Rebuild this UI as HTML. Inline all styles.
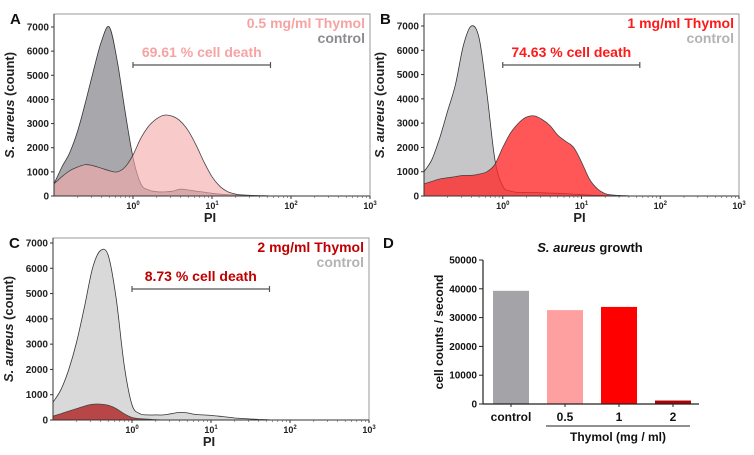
<!DOCTYPE html>
<html><head><meta charset="utf-8"><style>
html,body{margin:0;padding:0;background:#fff;}
svg{display:block;font-family:"Liberation Sans",Arial,sans-serif;font-weight:bold;}
</style></head>
<body>
<svg id="fig" width="754" height="455" viewBox="0 0 754 455" xmlns="http://www.w3.org/2000/svg"></svg>
<script>
// ---- data (log10 PI bins from -1.0 to 3.0 step 0.1) ----
const logBins = [];
for (let i = 0; i <= 40; i++) logBins.push(-1 + i * 0.1);
const controlA = [500,1200,1800,2700,3900,5200,6400,7000,5600,3500,1600,500,250,180,170,200,280,250,200,160,110,80,60,45,35,25,15,8,0,0,0,0,0,0,0,0,0,0,0,0,0];
const thymolA  = [500,800,1050,1200,1300,1250,1150,1050,1000,1200,1700,2400,2900,3200,3350,3300,3100,2700,2100,1400,800,400,180,80,40,20,10,5,0,0,0,0,0,0,0,0,0,0,0,0,0];
const controlB = [1000,1500,2400,3500,4600,6200,7000,6500,4200,1500,400,200,150,150,150,130,120,110,100,80,60,40,30,20,10,5,0,0,0,0,0,0,0,0,0,0,0,0,0,0,0];
const thymolB  = [500,600,700,750,800,850,850,900,1000,1300,2000,2600,3000,3250,3300,3150,2900,2500,2250,2000,1400,700,300,100,40,20,10,0,0,0,0,0,0,0,0,0,0,0,0,0,0];
const controlC = [700,1200,2000,3100,4500,6000,6700,6500,4800,2200,600,250,200,200,200,250,300,280,220,200,180,150,120,80,60,40,25,10,0,0,0,0,0,0,0,0,0,0,0,0,0];
const thymolC  = [150,250,350,450,550,620,630,580,450,250,100,50,30,10,5,0,0,0,0,0,0,0,0,0,0,0,0,0,0,0,0,0,0,0,0,0,0,0,0,0,0];
const yTicks = [0,1000,2000,3000,4000,5000,6000,7000];
const xDecades = [0,1,2,3];
const barCategories = ["control","0.5","1","2"];
const barValues = [39300,32600,33700,1200];
const barTicks = [0,10000,20000,30000,40000,50000];

const NS = "http://www.w3.org/2000/svg";
const svg = document.getElementById("fig");
function mk(tag, attrs, parent, text) {
  const e = document.createElementNS(NS, tag);
  for (const k in attrs) e.setAttribute(k, attrs[k]);
  if (text !== undefined) e.textContent = text;
  (parent || svg).appendChild(e);
  return e;
}

function histPanel(p) {
  const g = mk("g", {});
  
  
  const xs = v => p.left + (v + 1) / 4 * (p.right - p.left);
  const ys = v => p.y0 - v / 7000 * (p.y0 - p.y7000);
  const fr = mk("rect", {x:p.left, y:p.top, width:p.right-p.left, height:p.y0-p.top, fill:"none", stroke:"#999", "stroke-width":1}, g);
  
  
  function area(data, fill, stroke, nm) {
    const pts = data.map((v, i) => [xs(logBins[i]), ys(v)]);
    let d = "M" + pts[0][0] + "," + p.y0 + " L" + pts[0][0].toFixed(1) + "," + pts[0][1].toFixed(1);
    for (let i = 0; i < pts.length - 1; i++) {
      const p0 = pts[Math.max(0, i-1)], p1 = pts[i], p2 = pts[i+1], p3 = pts[Math.min(pts.length-1, i+2)];
      const c1x = p1[0] + (p2[0]-p0[0])/6, c1y = Math.min(p.y0, p1[1] + (p2[1]-p0[1])/6);
      const c2x = p2[0] - (p3[0]-p1[0])/6, c2y = Math.min(p.y0, p2[1] - (p3[1]-p1[1])/6);
      d += " C" + c1x.toFixed(1) + "," + c1y.toFixed(1) + " " + c2x.toFixed(1) + "," + c2y.toFixed(1) + " " + p2[0].toFixed(1) + "," + p2[1].toFixed(1);
    }
    d += " L" + pts[pts.length-1][0] + "," + p.y0 + " Z";
    const a = mk("path", {d:d, fill:fill, stroke:stroke, "stroke-width":0.8}, g);
    
    
  }
  area(p.control, p.cFill, "#333", "control-histogram");
  area(p.treat, p.tFill, "#444", "thymol-histogram");
  mk("line", {x1:p.left, y1:p.top, x2:p.left, y2:p.y0, stroke:"#333", "stroke-width":1}, g);
  mk("line", {x1:p.left, y1:p.y0, x2:p.right, y2:p.y0, stroke:"#333", "stroke-width":1}, g);
  yTicks.forEach(t => {
    mk("line", {x1:p.left-3, y1:ys(t), x2:p.left, y2:ys(t), stroke:"#333"}, g);
    const tl = mk("text", {x:p.left-5, y:ys(t)+3.5, "font-size":10, "text-anchor":"end", fill:"#222"}, g, String(t));
    
    
  });
  xDecades.forEach(dc => {
    const x = xs(dc);
    mk("line", {x1:x, y1:p.y0, x2:x, y2:p.y0+3, stroke:"#333"}, g);
    for (let m = 2; m < 10; m++) {
      const xm = xs(dc - 1 + Math.log10(m));
      mk("line", {x1:xm, y1:p.y0, x2:xm, y2:p.y0+2, stroke:"#555", "stroke-width":0.6}, g);
    }
    const tl = mk("text", {x:x, y:p.y0+13, "font-size":9, "text-anchor":"middle", fill:"#222"}, g);
    
    
    tl.appendChild(document.createTextNode("10"));
    mk("tspan", {"font-size":6, dy:-4}, tl, String(dc));
  });
  const xt = mk("text", {x:(p.left+p.right)/2 - 2, y:p.y0+26, "font-size":13, "text-anchor":"middle", fill:"#222"}, g, "PI");
  
  
  const yt = mk("text", {transform:"translate("+(p.left-40)+","+((p.top+p.y0)/2)+") rotate(-90)", "font-size":13, "text-anchor":"middle", fill:"#222"}, g);
  
  
  mk("tspan", {"font-style":"italic"}, yt, "S. aureus");
  mk("tspan", {}, yt, " (count)");
  const pl = mk("text", {x:p.left-44, y:p.top+10, "font-size":15, fill:"#111"}, g, p.letter);
  
  
  const l1 = mk("text", {x:p.right-5, y:p.top+14, "font-size":14, "text-anchor":"end", fill:p.tColor}, g, p.label);
  
  
  const l2 = mk("text", {x:p.right-5, y:p.top+29, "font-size":14, "text-anchor":"end", fill:p.cColor}, g, "control");
  
  
  const gx1 = xs(0), gx2 = xs(Math.log10(55)), gy = p.top + 51;
  mk("line", {x1:gx1, y1:gy, x2:gx2, y2:gy, stroke:"#555", "stroke-width":1.2}, g);
  mk("line", {x1:gx1, y1:gy-3, x2:gx1, y2:gy+3, stroke:"#555", "stroke-width":1.2}, g);
  mk("line", {x1:gx2, y1:gy-3, x2:gx2, y2:gy+3, stroke:"#555", "stroke-width":1.2}, g);
  const gt = mk("text", {x:(gx1+gx2)/2, y:gy-8, "font-size":14, "text-anchor":"middle", fill:p.tColor}, g, p.gate);
  
  
}

histPanel({name:"panel-a", letter:"A", left:54, right:370, top:14, y0:196, y7000:27,
  control:controlA, treat:thymolA, cFill:"#a8a8ac", tFill:"rgba(244,170,170,0.62)",
  tColor:"#f7a3a3", cColor:"#8c8c90", label:"0.5 mg/ml Thymol", gate:"69.61 % cell death"});
histPanel({name:"panel-b", letter:"B", left:424, right:739, top:14, y0:196, y7000:26,
  control:controlB, treat:thymolB, cFill:"#c6c6c8", tFill:"rgba(255,40,40,0.78)",
  tColor:"#ff1a1a", cColor:"#b3b3b3", label:"1 mg/ml Thymol", gate:"74.63 % cell death"});
histPanel({name:"panel-c", letter:"C", left:53, right:369, top:238, y0:420, y7000:243,
  control:controlC, treat:thymolC, cFill:"#d9d9d9", tFill:"#b94646",
  tColor:"#c00000", cColor:"#b3b3b3", label:"2 mg/ml Thymol", gate:"8.73 % cell death"});

(function(){
  const g = mk("g", {});
  
  
  const L = 483, R = 699, Y0 = 404, YT = 260;
  const ys = v => Y0 - v / 50000 * (Y0 - YT);
  const xc = i => L + 28 + i * 54;
  const colors = ["#a4a3a8","#ffa0a0","#ff0000","#b00000"];
  barValues.forEach((v, i) => {
    const b = mk("rect", {x:xc(i)-18, y:ys(v), width:36, height:Y0-ys(v), fill:colors[i]}, g);
    
    
    mk("line", {x1:xc(i), y1:Y0, x2:xc(i), y2:Y0+3, stroke:"#222"}, g);
    const t = mk("text", {x:xc(i), y:Y0+17, "font-size":12, "text-anchor":"middle", fill:"#111"}, g, barCategories[i]);
    
    
  });
  mk("line", {x1:L, y1:YT, x2:L, y2:Y0, stroke:"#222", "stroke-width":1.2}, g);
  mk("line", {x1:L, y1:Y0, x2:R, y2:Y0, stroke:"#222", "stroke-width":1.2}, g);
  barTicks.forEach(t => {
    mk("line", {x1:L-4, y1:ys(t), x2:L, y2:ys(t), stroke:"#222"}, g);
    const tl = mk("text", {x:L-6, y:ys(t)+3.5, "font-size":10, "text-anchor":"end", fill:"#111"}, g, String(t));
    
    
  });
  const yt = mk("text", {transform:"translate(443,"+((YT+Y0)/2)+") rotate(-90)", "font-size":12, "text-anchor":"middle", fill:"#111"}, g, "cell counts / second");
  
  
  mk("line", {x1:546, y1:426, x2:690, y2:426, stroke:"#222"}, g);
  const xt = mk("text", {x:618, y:441, "font-size":12, "text-anchor":"middle", fill:"#111"}, g, "Thymol (mg / ml)");
  
  
  const tt = mk("text", {x:590, y:252, "font-size":13, "text-anchor":"middle", fill:"#111"}, g);
  
  
  mk("tspan", {"font-style":"italic"}, tt, "S. aureus");
  mk("tspan", {}, tt, " growth");
  const pl = mk("text", {x:383, y:248, "font-size":15, fill:"#111"}, g, "D");
  
  
})();
</script>
</body></html>
